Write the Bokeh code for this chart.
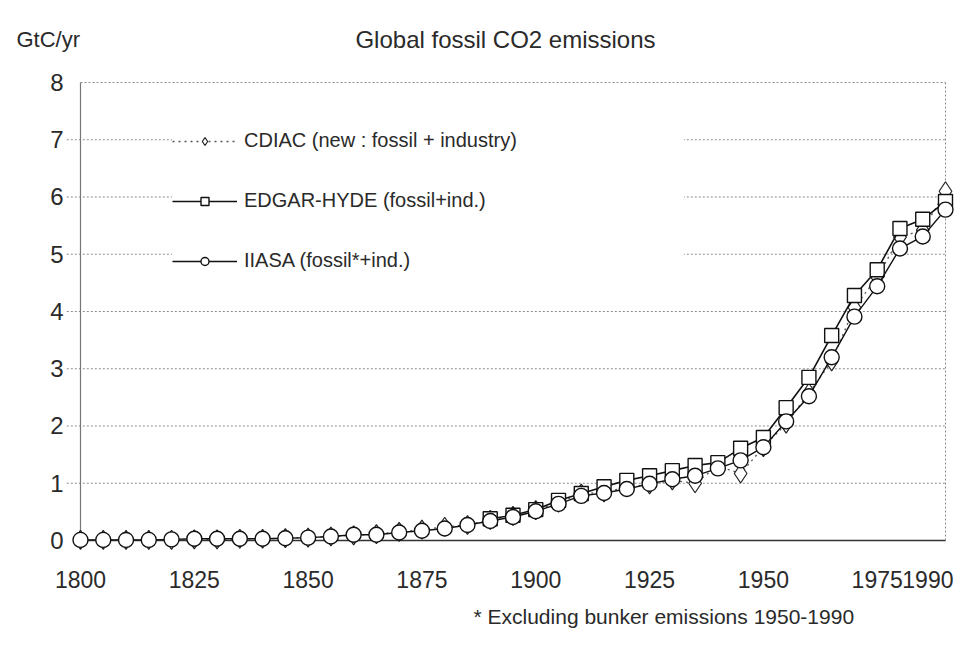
from bokeh.plotting import figure
from bokeh.models import Label, Legend, LegendItem, Range1d
from bokeh.core.properties import value
from bokeh.embed import file_html
from bokeh.resources import INLINE

# ---------------- data ----------------
years = [1800, 1805, 1810, 1815, 1820, 1825, 1830, 1835, 1840, 1845,
         1850, 1855, 1860, 1865, 1870, 1875, 1880, 1885, 1890, 1895,
         1900, 1905, 1910, 1915, 1920, 1925, 1930, 1935, 1940, 1945,
         1950, 1955, 1960, 1965, 1970, 1975, 1980, 1985, 1990]

cdiac = [0.01, 0.01, 0.01, 0.01, 0.01, 0.02, 0.02, 0.03, 0.03, 0.04,
         0.05, 0.07, 0.09, 0.11, 0.15, 0.19, 0.24, 0.27, 0.36, 0.43,
         0.53, 0.66, 0.82, 0.84, 0.93, 0.98, 1.05, 1.00, 1.30, 1.17,
         1.63, 2.04, 2.58, 3.13, 4.07, 4.60, 5.30, 5.42, 6.10]

iiasa = [0.01, 0.01, 0.01, 0.01, 0.02, 0.03, 0.03, 0.03, 0.03, 0.04,
         0.05, 0.07, 0.10, 0.10, 0.14, 0.17, 0.21, 0.27, 0.34, 0.41,
         0.51, 0.64, 0.78, 0.83, 0.90, 0.99, 1.07, 1.13, 1.26, 1.40,
         1.63, 2.08, 2.52, 3.20, 3.91, 4.44, 5.10, 5.31, 5.78]

edgar_years = [1890, 1895, 1900, 1905, 1910, 1915, 1920, 1925, 1930, 1935,
               1940, 1945, 1950, 1955, 1960, 1965, 1970, 1975, 1980, 1985, 1990]
edgar = [0.38, 0.44, 0.54, 0.70, 0.82, 0.94, 1.05, 1.13, 1.22, 1.31,
         1.36, 1.61, 1.80, 2.32, 2.85, 3.58, 4.28, 4.73, 5.45, 5.61, 5.92]

x_ticks = [1800, 1825, 1850, 1875, 1900, 1925, 1950, 1975, 1990]
y_ticks = [0, 1, 2, 3, 4, 5, 6, 7, 8]

series_labels = ["CDIAC (new : fossil + industry)",
                 "EDGAR-HYDE (fossil+ind.)",
                 "IIASA (fossil*+ind.)"]
title_text = "Global fossil CO2 emissions"
unit_text = "GtC/yr"
note_text = "* Excluding bunker emissions 1950-1990"

FONT = "Liberation Sans"
TXT = "#2a2a2a"

# ---------------- figure (frame = whole canvas) ----------------
W, H = 977, 647
p = figure(width=W, height=H,
           x_range=Range1d(1782.43, 1997.03), y_range=Range1d(-1.869, 9.432),
           x_axis_location=None, y_axis_location=None,
           output_backend="svg", toolbar_location=None, min_border=0)
p.outline_line_color = None
p.background_fill_color = "white"
p.border_fill_color = "white"
p.xgrid.visible = False
p.ygrid.visible = False

x0, x1 = x_ticks[0], x_ticks[-1]
y0, y1 = y_ticks[0], y_ticks[-1]
n_grid = len(y_ticks) - 2

# horizontal dotted gridlines 1..7 (with small outside tick stubs) and top border at 8
p.segment(x0=[x0 - 3] * n_grid, y0=y_ticks[1:-1],
          x1=[x1] * n_grid, y1=y_ticks[1:-1],
          line_color="#8c8c8c", line_width=1, line_dash="2 2")
p.segment(x0=[x0], y0=[y1], x1=[x1], y1=[y1],
          line_color="#8c8c8c", line_width=1, line_dash="2 2")
# right border (dotted), left axis line, bottom axis line
p.segment(x0=[x1], y0=[y0], x1=[x1], y1=[y1], line_color="#8c8c8c", line_width=1, line_dash="2 2")
p.segment(x0=[x0], y0=[y0], x1=[x0], y1=[y1], line_color="#777777", line_width=1.2)
p.segment(x0=[x0], y0=[y0], x1=[x1], y1=[y0], line_color="#333333", line_width=1.4)

# tick labels
p.text(x=x_ticks[:-1], y=[y0] * (len(x_ticks) - 1), text=[str(t) for t in x_ticks[:-1]],
       text_align="center", text_baseline="middle", y_offset=39,
       text_font=value(FONT), text_font_size=value("23px"), text_color=TXT)
p.text(x=[x_ticks[-1]], y=[y0], text=[str(x_ticks[-1])],
       text_align="right", text_baseline="middle", x_offset=8, y_offset=39,
       text_font=value(FONT), text_font_size=value("23px"), text_color=TXT)
p.text(x=[x0] * len(y_ticks), y=y_ticks, text=[str(t) for t in y_ticks],
       text_align="right", text_baseline="middle", x_offset=-17,
       text_font=value(FONT), text_font_size=value("24px"), text_color=TXT)

# ---------------- series ----------------
l1 = p.line(years, cdiac, line_color="#555555", line_width=1.3, line_dash="2 4")
m1 = p.scatter(years, cdiac, marker="diamond", size=19, fill_color="white",
               line_color="#222222", line_width=1.2)
l2 = p.line(edgar_years, edgar, line_color="#111111", line_width=1.6)
m2 = p.scatter(edgar_years, edgar, marker="square", size=14, fill_color="white",
               line_color="#111111", line_width=1.4)
l3 = p.line(years, iiasa, line_color="#111111", line_width=1.4)
m3 = p.scatter(years, iiasa, marker="circle", size=15, fill_color="white",
               line_color="#111111", line_width=1.4)

legend = Legend(items=[LegendItem(label=series_labels[0], renderers=[l1, m1]),
                       LegendItem(label=series_labels[1], renderers=[l2, m2]),
                       LegendItem(label=series_labels[2], renderers=[l3, m3])],
                location=(172, 375), orientation="vertical",
                glyph_width=65, glyph_height=20, label_height=20, spacing=37,
                padding=8, margin=0, label_standoff=7, label_width=440,
                label_text_font=FONT, label_text_font_size="20px",
                label_text_color=TXT,
                background_fill_color="white", background_fill_alpha=1.0,
                border_line_color=None)
p.add_layout(legend)

# ---------------- texts ----------------
p.add_layout(Label(x=505, y=H - 39, x_units="screen", y_units="screen", text=title_text,
                   text_align="center", text_baseline="middle",
                   text_font=FONT, text_font_size="24px", text_color=TXT))
p.add_layout(Label(x=16, y=H - 39, x_units="screen", y_units="screen", text=unit_text,
                   text_align="left", text_baseline="middle",
                   text_font=FONT, text_font_size="22px", text_color=TXT))
p.add_layout(Label(x=473, y=H - 616, x_units="screen", y_units="screen", text=note_text,
                   text_align="left", text_baseline="middle",
                   text_font=FONT, text_font_size="21px", text_color=TXT))

open("out.html", "w").write(file_html(p, INLINE))
